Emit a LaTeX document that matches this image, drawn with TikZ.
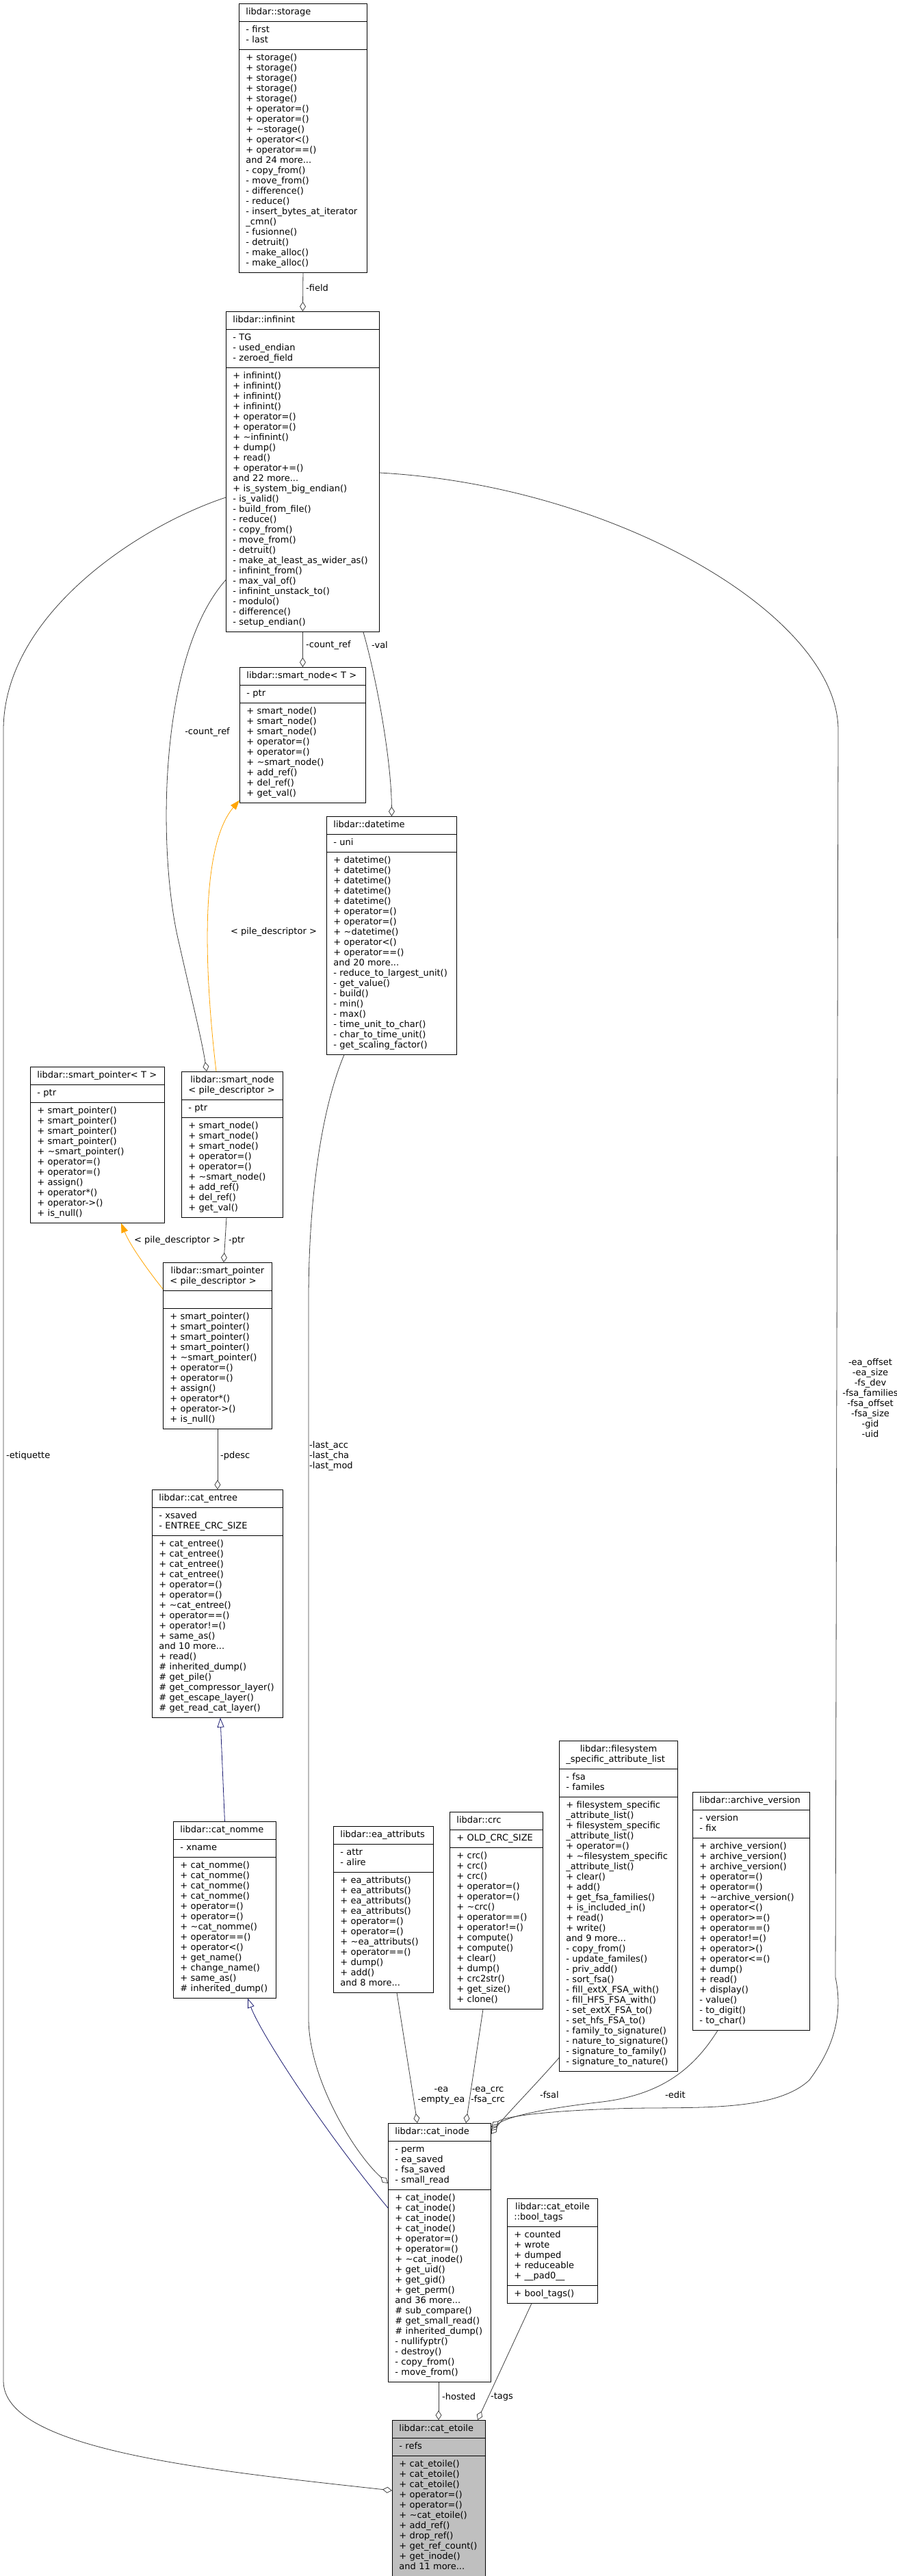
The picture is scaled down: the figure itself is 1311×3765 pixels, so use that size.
\documentclass[tikz,border=0pt]{standalone}
\usepackage{fontspec}
\setmainfont{DejaVu Sans}
\usetikzlibrary{shapes.multipart,arrows.meta,calc}
\definecolor{edgegray}{HTML}{404040}
\definecolor{inhnavy}{HTML}{191970}
\definecolor{tmplorange}{HTML}{FFA500}
\newcommand\tl{\textasciitilde}
\begin{document}
\begin{tikzpicture}[x=1pt,y=-1pt,
  cls/.style={rectangle split, rectangle split parts=3, draw=black, line width=0.9pt, fill=white,
    anchor=north west, inner xsep=10pt, inner ysep=5pt, font=\fontsize{13}{15}\selectfont, align=left},
  lbl/.style={font=\fontsize{13}{15}\selectfont, inner sep=0pt, align=left},
  comp/.style={draw=edgegray, line width=0.8pt, -{Diamond[open,length=14pt,width=9pt,line width=0.8pt]}},
  inh/.style={draw=inhnavy, line width=0.8pt, -{Triangle[open,length=14pt,width=10pt,line width=0.8pt]}},
  tmpl/.style={draw=tmplorange, line width=0.8pt, -{Triangle[fill=tmplorange,length=14pt,width=10pt]}}]
\useasboundingbox[fill=white] (0,0) rectangle (1311,3765);

\node[cls, text width=167pt] (storage) at (349,5) {\centering\strut libdar::storage\strut
\nodepart{two}\strut - first\\- last\strut
\nodepart{three}\strut + storage()\\+ storage()\\+ storage()\\+ storage()\\+ storage()\\+ operator=()\\+ operator=()\\+ \tl storage()\\+ operator<()\\+ operator==()\\and 24 more...\\- copy\_from()\\- move\_from()\\- difference()\\- reduce()\\- insert\_bytes\_at\_iterator\\\_cmn()\\- fusionne()\\- detruit()\\- make\_alloc()\\- make\_alloc()\strut};

\node[cls, text width=204pt] (infinint) at (330,455) {\centering\strut libdar::infinint\strut
\nodepart{two}\strut - TG\\- used\_endian\\- zeroed\_field\strut
\nodepart{three}\strut + infinint()\\+ infinint()\\+ infinint()\\+ infinint()\\+ operator=()\\+ operator=()\\+ \tl infinint()\\+ dump()\\+ read()\\+ operator+=()\\and 22 more...\\+ is\_system\_big\_endian()\\- is\_valid()\\- build\_from\_file()\\- reduce()\\- copy\_from()\\- move\_from()\\- detruit()\\- make\_at\_least\_as\_wider\_as()\\- infinint\_from()\\- max\_val\_of()\\- infinint\_unstack\_to()\\- modulo()\\- difference()\\- setup\_endian()\strut};

\node[cls, text width=164pt] (snT) at (350,975) {\centering\strut libdar::smart\_node< T >\strut
\nodepart{two}\strut - ptr\strut
\nodepart{three}\strut + smart\_node()\\+ smart\_node()\\+ smart\_node()\\+ operator=()\\+ operator=()\\+ \tl smart\_node()\\+ add\_ref()\\+ del\_ref()\\+ get\_val()\strut};

\node[cls, text width=170pt] (datetime) at (477,1193) {\centering\strut libdar::datetime\strut
\nodepart{two}\strut - uni\strut
\nodepart{three}\strut + datetime()\\+ datetime()\\+ datetime()\\+ datetime()\\+ datetime()\\+ operator=()\\+ operator=()\\+ \tl datetime()\\+ operator<()\\+ operator==()\\and 20 more...\\- reduce\_to\_largest\_unit()\\- get\_value()\\- build()\\- min()\\- max()\\- time\_unit\_to\_char()\\- char\_to\_time\_unit()\\- get\_scaling\_factor()\strut};

\node[cls, text width=176pt] (spT) at (44,1559) {\centering\strut libdar::smart\_pointer< T >\strut
\nodepart{two}\strut - ptr\strut
\nodepart{three}\strut + smart\_pointer()\\+ smart\_pointer()\\+ smart\_pointer()\\+ smart\_pointer()\\+ \tl smart\_pointer()\\+ operator=()\\+ operator=()\\+ assign()\\+ operator*()\\+ operator->()\\+ is\_null()\strut};

\node[cls, text width=128pt] (snP) at (265,1566) {\centering\strut libdar::smart\_node\\< pile\_descriptor >\strut
\nodepart{two}\strut - ptr\strut
\nodepart{three}\strut + smart\_node()\\+ smart\_node()\\+ smart\_node()\\+ operator=()\\+ operator=()\\+ \tl smart\_node()\\+ add\_ref()\\+ del\_ref()\\+ get\_val()\strut};

\node[cls, text width=139pt] (spP) at (238,1845) {\centering\strut libdar::smart\_pointer\\< pile\_descriptor >\strut
\nodepart{two}\strut
\nodepart{three}\strut + smart\_pointer()\\+ smart\_pointer()\\+ smart\_pointer()\\+ smart\_pointer()\\+ \tl smart\_pointer()\\+ operator=()\\+ operator=()\\+ assign()\\+ operator*()\\+ operator->()\\+ is\_null()\strut};

\node[cls, text width=171pt] (entree) at (222,2177) {\centering\strut libdar::cat\_entree\strut
\nodepart{two}\strut - xsaved\\- ENTREE\_CRC\_SIZE\strut
\nodepart{three}\strut + cat\_entree()\\+ cat\_entree()\\+ cat\_entree()\\+ cat\_entree()\\+ operator=()\\+ operator=()\\+ \tl cat\_entree()\\+ operator==()\\+ operator!=()\\+ same\_as()\\and 10 more...\\+ read()\\\# inherited\_dump()\\\# get\_pile()\\\# get\_compressor\_layer()\\\# get\_escape\_layer()\\\# get\_read\_cat\_layer()\strut};

\node[cls, text width=130pt] (nomme) at (253,2662) {\centering\strut libdar::cat\_nomme\strut
\nodepart{two}\strut - xname\strut
\nodepart{three}\strut + cat\_nomme()\\+ cat\_nomme()\\+ cat\_nomme()\\+ cat\_nomme()\\+ operator=()\\+ operator=()\\+ \tl cat\_nomme()\\+ operator==()\\+ operator<()\\+ get\_name()\\+ change\_name()\\+ same\_as()\\\# inherited\_dump()\strut};

\node[cls, text width=126pt] (ea) at (487,2669) {\centering\strut libdar::ea\_attributs\strut
\nodepart{two}\strut - attr\\- alire\strut
\nodepart{three}\strut + ea\_attributs()\\+ ea\_attributs()\\+ ea\_attributs()\\+ ea\_attributs()\\+ operator=()\\+ operator=()\\+ \tl ea\_attributs()\\+ operator==()\\+ dump()\\+ add()\\and 8 more...\strut};

\node[cls, text width=116pt] (crc) at (657,2648) {\centering\strut libdar::crc\strut
\nodepart{two}\strut + OLD\_CRC\_SIZE\strut
\nodepart{three}\strut + crc()\\+ crc()\\+ crc()\\+ operator=()\\+ operator=()\\+ \tl crc()\\+ operator==()\\+ operator!=()\\+ compute()\\+ compute()\\+ clear()\\+ dump()\\+ crc2str()\\+ get\_size()\\+ clone()\strut};

\node[cls, text width=153pt] (fsal) at (817,2544) {\centering\strut libdar::filesystem\\\_specific\_attribute\_list\strut
\nodepart{two}\strut - fsa\\- familes\strut
\nodepart{three}\strut + filesystem\_specific\\\_attribute\_list()\\+ filesystem\_specific\\\_attribute\_list()\\+ operator=()\\+ \tl filesystem\_specific\\\_attribute\_list()\\+ clear()\\+ add()\\+ get\_fsa\_families()\\+ is\_included\_in()\\+ read()\\+ write()\\and 9 more...\\- copy\_from()\\- update\_familes()\\- priv\_add()\\- sort\_fsa()\\- fill\_extX\_FSA\_with()\\- fill\_HFS\_FSA\_with()\\- set\_extX\_FSA\_to()\\- set\_hfs\_FSA\_to()\\- family\_to\_signature()\\- nature\_to\_signature()\\- signature\_to\_family()\\- signature\_to\_nature()\strut};

\node[cls, text width=151pt] (archive) at (1012,2619) {\centering\strut libdar::archive\_version\strut
\nodepart{two}\strut - version\\- fix\strut
\nodepart{three}\strut + archive\_version()\\+ archive\_version()\\+ archive\_version()\\+ operator=()\\+ operator=()\\+ \tl archive\_version()\\+ operator<()\\+ operator>=()\\+ operator==()\\+ operator!=()\\+ operator>()\\+ operator<=()\\+ dump()\\+ read()\\+ display()\\- value()\\- to\_digit()\\- to\_char()\strut};

\node[cls, text width=130pt] (inode) at (567,3103) {\centering\strut libdar::cat\_inode\strut
\nodepart{two}\strut - perm\\- ea\_saved\\- fsa\_saved\\- small\_read\strut
\nodepart{three}\strut + cat\_inode()\\+ cat\_inode()\\+ cat\_inode()\\+ cat\_inode()\\+ operator=()\\+ operator=()\\+ \tl cat\_inode()\\+ get\_uid()\\+ get\_gid()\\+ get\_perm()\\and 36 more...\\\# sub\_compare()\\\# get\_small\_read()\\\# inherited\_dump()\\- nullifyptr()\\- destroy()\\- copy\_from()\\- move\_from()\strut};

\node[cls, text width=112pt] (booltags) at (741,3213) {\centering\strut libdar::cat\_etoile\\::bool\_tags\strut
\nodepart{two}\strut + counted\\+ wrote\\+ dumped\\+ reduceable\\+ \_\_pad0\_\_\strut
\nodepart{three}\strut + bool\_tags()\strut};

\node[cls, text width=116pt, fill=black!25] (etoile) at (573,3537) {\centering\strut libdar::cat\_etoile\strut
\nodepart{two}\strut - refs\strut
\nodepart{three}\strut + cat\_etoile()\\+ cat\_etoile()\\+ cat\_etoile()\\+ operator=()\\+ operator=()\\+ \tl cat\_etoile()\\+ add\_ref()\\+ drop\_ref()\\+ get\_ref\_count()\\+ get\_inode()\\and 11 more...\strut};

% connectors
\draw[comp] (storage.south) -- (infinint.north);
\node[lbl, anchor=west] (lfield) at (447,421) {-field};
\draw[comp] (infinint.south) -- (snT.north);
\node[lbl, anchor=west] (lcr1) at (447,943) {-count\_ref};
\draw[comp] ($(infinint.south east)+(-24,0)$) .. controls (550,990) and (572,1110) .. (datetime.north);
\node[lbl, anchor=west] (lval) at (543,943) {-val};
\draw[comp] ($(infinint.south west)+(0,-76)$) .. controls (230,960) and (230,1250) .. (262,1380) .. controls (280,1460) and (295,1520) .. ($(snP.north west)+(37,0)$);
\node[lbl, anchor=east] (lcr2) at (336,1070) {-count\_ref};
\draw[tmpl] ($(snP.north west)+(51,0)$) .. controls (300,1430) and (290,1240) .. ($(snT.south west)+(0,-4)$);
\node[lbl] (lpd1) at (400,1362) {< pile\_descriptor >};
\draw[comp] ($(snP.south west)+(66,0)$) -- ($(spP.north west)+(89,0)$);
\node[lbl, anchor=west] (lptr) at (334,1813) {-ptr};
\draw[tmpl] ($(spP.north west)+(0,39)$) .. controls (215,1855) and (190,1820) .. ($(spT.south west)+(133,0)$);
\node[lbl] (lpd2) at (259,1813) {< pile\_descriptor >};
\draw[comp] (spP.south) -- (entree.north);
\node[lbl, anchor=west] (lpdesc) at (322,2128) {-pdesc};
\draw[inh] (nomme.north) -- ($(entree.south west)+(100,0)$);
\draw[inh] ($(inode.north west)+(0,124)$) .. controls (470,3110) and (380,2970) .. ($(nomme.south west)+(109,0)$);
\draw[comp] ($(infinint.north west)+(0,272)$) .. controls (200,770) and (5,900) .. (5,1067) -- (5,3480) .. controls (5,3580) and (300,3610) .. ($(etoile.north west)+(0,103)$);
\node[lbl, anchor=west] (letiq) at (9,2128) {-etiquette};
\draw[comp] ($(datetime.south west)+(26,0)$) .. controls (470,1620) and (451,1750) .. (451,1900) -- (451,2950) .. controls (451,3040) and (520,3150) .. ($(inode.north west)+(0,88)$);
\node[lbl, anchor=west] (llast) at (452,2128) {-last\_acc\\-last\_cha\\-last\_mod};
\draw[comp] ($(infinint.north east)+(0,236)$) .. controls (900,710) and (1225,900) .. (1225,1067) -- (1221,2890) .. controls (1236,2960) and (1205,3010) .. (1183,3040) .. controls (1130,3090) and (1000,3078) .. (900,3082) .. controls (780,3086) and (735,3095) .. ($(inode.north east)+(0,6)$);
\node[lbl, align=center] (loff) at (1272,2043) {-ea\_offset\\-ea\_size\\-fs\_dev\\-fsa\_families\\-fsa\_offset\\-fsa\_size\\-gid\\-uid};
\draw[comp] ($(ea.south west)+(93,0)$) -- ($(inode.north west)+(43,0)$);
\node[lbl, align=center] (lea) at (645,3063) {-ea\\-empty\_ea};
\draw[comp] ($(crc.south west)+(49,0)$) -- ($(inode.north west)+(114,0)$);
\node[lbl, align=center] (lcrc) at (713,3063) {-ea\_crc\\-fsa\_crc};
\draw[comp] ($(fsal.south west)+(0,-20)$) .. controls (780,3050) and (740,3090) .. ($(inode.north east)+(0,16)$);
\node[lbl] (lfsal) at (803,3062) {-fsal};
\draw[comp] ($(archive.south west)+(37,0)$) .. controls (1010,3030) and (960,3062) .. (880,3072) .. controls (775,3084) and (735,3097) .. ($(inode.north east)+(0,11)$);
\node[lbl] (ledit) at (987,3062) {-edit};
\draw[comp] ($(inode.south west)+(74,0)$) -- ($(etoile.north west)+(68,0)$);
\node[lbl, anchor=west] (lhost) at (646,3503) {-hosted};
\draw[comp] ($(booltags.south west)+(36,0)$) -- ($(etoile.north west)+(125,0)$);
\node[lbl, anchor=west] (ltags) at (717,3503) {-tags};
\end{tikzpicture}
\end{document}
